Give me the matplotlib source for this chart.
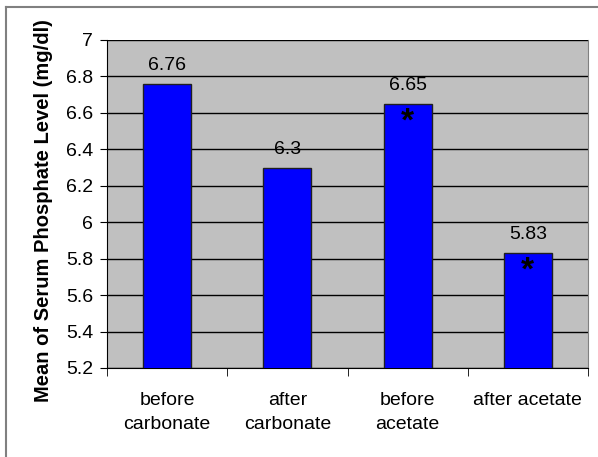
import numpy as np
import matplotlib.pyplot as plt
from matplotlib.lines import Line2D

plt.rcParams['font.family'] = ['Liberation Sans', 'DejaVu Sans']

categories = ["before\ncarbonate", "after\ncarbonate", "before\nacetate", "after acetate"]
means = [6.76, 6.3, 6.65, 5.83]
value_labels = ["6.76", "6.3", "6.65", "5.83"]
significant = [False, False, True, True]

fig = plt.figure(figsize=(5.98, 4.57), dpi=100)
ax = fig.add_axes([107 / 598, 1 - 368 / 457, 481 / 598, 328 / 457])
ax.set_facecolor('#c0c0c0')

x = np.arange(len(categories))
ax.bar(x, means, width=0.4, color='#0000ff', edgecolor='#202020', linewidth=1, zorder=3)

for xi, m, lab, sig in zip(x, means, value_labels, significant):
    ax.annotate(lab, (xi, m), xytext=(0, 7), textcoords='offset points',
                ha='center', va='bottom', fontsize=14)
    if sig:
        ax.text(xi, m - 0.1, '*', ha='center', va='center', fontsize=24,
                fontweight='bold', zorder=4)

ax.set_xlim(-0.5, 3.5)
ax.set_ylim(5.2, 7)
ticks = np.round(np.arange(5.2, 7.01, 0.2), 1)
ax.set_yticks(ticks)
ax.set_yticklabels([f"{v:g}" for v in ticks], fontsize=14)
ax.yaxis.grid(True, color='black', linewidth=1, zorder=1)
ax.set_axisbelow(True)

# category labels centred, ticks between categories
ax.set_xticks(x)
ax.set_xticklabels(categories, fontsize=14, linespacing=1.55)
ax.tick_params(axis='x', length=0, pad=17)
ax.set_xticks(np.arange(-0.5, 4, 1), minor=True)
ax.tick_params(axis='x', which='minor', length=6, color='black')
ax.tick_params(axis='y', length=5, color='black', pad=5)

fig.text(44 / 598, 1 - 211 / 457, "Mean of Serum Phosphate Level (mg/dl)", rotation=90,
         ha='center', va='center', fontsize=14.5, fontweight='bold')

ax.spines['top'].set_visible(False)
ax.spines['right'].set_color('#808080')
ax.spines['left'].set_color('black')
ax.spines['bottom'].set_color('black')

# frame around the chart (only left and top visible in crop)
fig.add_artist(Line2D([6 / 598, 6 / 598], [0, 1 - 7 / 457], color='#808080', lw=1.5, transform=fig.transFigure))
fig.add_artist(Line2D([6 / 598, 1], [1 - 7 / 457, 1 - 7 / 457], color='#808080', lw=1.5, transform=fig.transFigure))

fig.savefig("out.png", dpi=100)
